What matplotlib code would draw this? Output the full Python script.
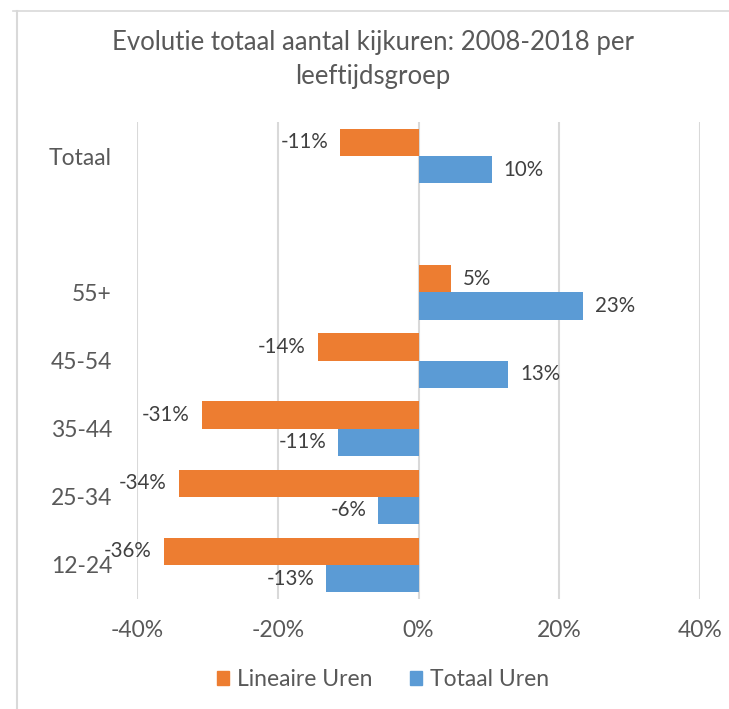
import matplotlib
matplotlib.use("Agg")
import matplotlib.pyplot as plt
from matplotlib.lines import Line2D
from matplotlib.patches import Patch
import numpy as np

plt.rcParams['font.family'] = ['Lato', 'DejaVu Sans']

categories = ["12-24", "25-34", "35-44", "45-54", "55+", "", "Totaal"]
lineaire = [-36.2, -34.1, -30.8, -14.3, 4.6, None, -11.1]
totaal = [-13.1, -5.7, -11.4, 12.7, 23.4, None, 10.4]
xticks = [-40, -20, 0, 20, 40]
title = "Evolutie totaal aantal kijkuren: 2008-2018 per\nleeftijdsgroep"

orange = "#ED7D31"
blue = "#5B9BD5"
txt = "#595959"

fig = plt.figure(figsize=(7.29, 7.09), dpi=100)
ax = fig.add_axes([137/729, 1 - 599/709, (700-137)/729, (599-122)/709])

def lab(v):
    return f"{round(v):d}%"

y = np.arange(len(categories))
h = 0.4
for i, (lv, tv) in enumerate(zip(lineaire, totaal)):
    if lv is not None:
        ax.barh(y[i] + h/2, lv, height=h, color=orange, zorder=3)
        ax.annotate(lab(lv), (lv, y[i] + h/2), xytext=(-12 if lv < 0 else 12, 0),
                    textcoords="offset pixels",
                    ha="right" if lv < 0 else "left", va="center", fontsize=14.8, color="#404040")
    if tv is not None:
        ax.barh(y[i] - h/2, tv, height=h, color=blue, zorder=3)
        ax.annotate(lab(tv), (tv, y[i] - h/2), xytext=(-12 if tv < 0 else 12, 0),
                    textcoords="offset pixels",
                    ha="right" if tv < 0 else "left", va="center", fontsize=14.8, color="#404040")

ax.set_xlim(-40, 40)
ax.set_ylim(-0.5, len(categories) - 0.5)
ax.set_xticks(xticks)
ax.set_xticklabels([f"{v}%" for v in xticks])
ax.set_yticks(y)
ax.set_yticklabels(categories)
ax.tick_params(axis='both', length=0, labelsize=16.5, colors=txt)
ax.tick_params(axis='x', pad=15)
ax.tick_params(axis='y', pad=18)
for s in ax.spines.values():
    s.set_visible(False)
ax.grid(axis='x', color="#D9D9D9", linewidth=1.5, zorder=0)
ax.set_axisbelow(True)

fig.suptitle(title, x=(17+729)/2/729, y=1 - 30/709, fontsize=18.5, color=txt, va="top", linespacing=1.45)

handles = [Patch(color=orange, label="Lineaire Uren"), Patch(color=blue, label="Totaal Uren")]
fig.legend(handles=handles, loc="center", bbox_to_anchor=(383/729, 1 - 680/709), ncol=2,
           frameon=False, fontsize=16.5, handlelength=0.55, handleheight=0.55, columnspacing=1.6,
           handletextpad=0.35, labelcolor=txt)

fig.add_artist(Line2D([13/729, 1], [1 - 11/709, 1 - 11/709], transform=fig.transFigure, color="#D9D9D9", lw=1.2))
fig.add_artist(Line2D([17/729, 17/729], [0, 1 - 11/709], transform=fig.transFigure, color="#D9D9D9", lw=1.5))

fig.savefig("out.png", dpi=100, facecolor="white")
